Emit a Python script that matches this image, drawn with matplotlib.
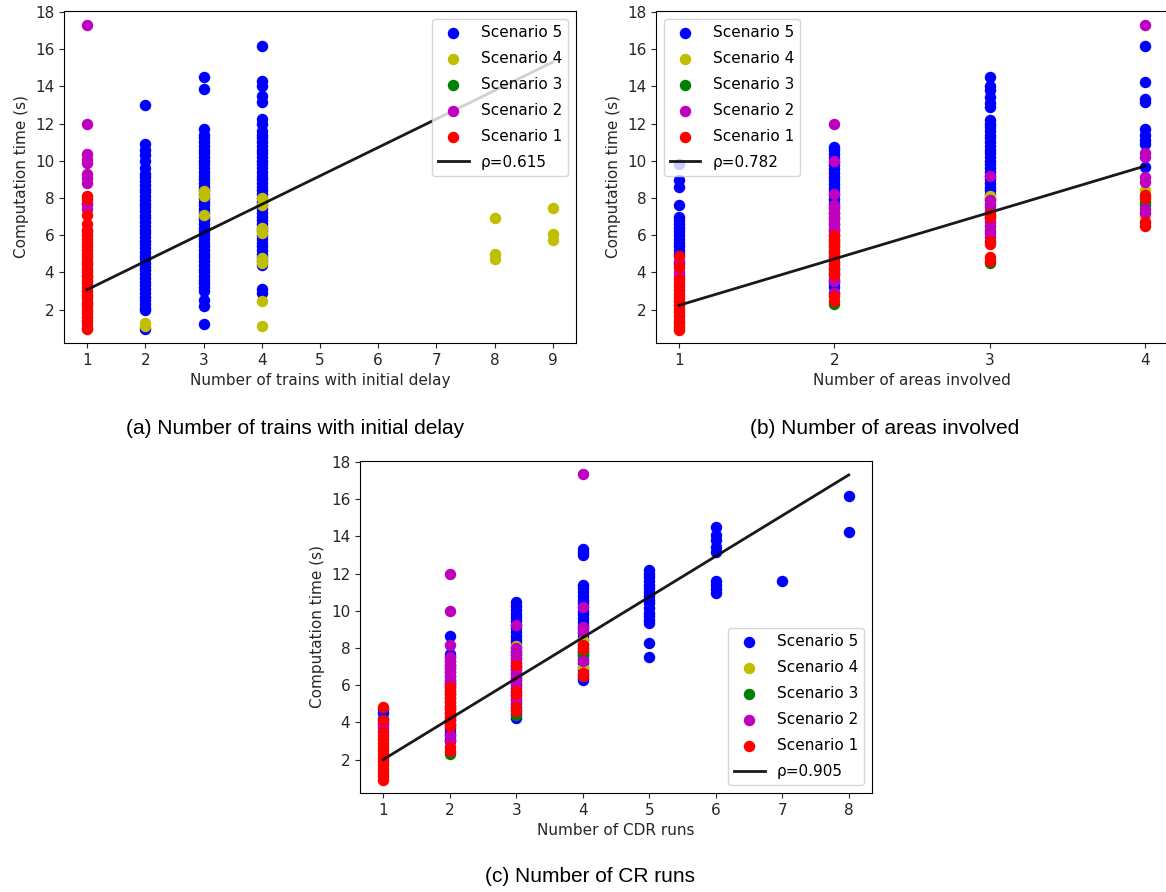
import matplotlib
matplotlib.use("Agg")
import matplotlib.pyplot as plt

# computation time (s) per scenario, grouped by x value (one dict per panel)
# ---- (a) number of trains with initial delay
a_s5 = {2: [13.0, 10.9, 10.6, 10.3, 10.0, 9.6, 9.3, 9.1, 8.9, 8.7, 8.5, 8.3, 8.1, 7.9,
            7.7, 7.5, 7.3, 7.1, 6.9, 6.7, 6.5, 6.3, 6.1, 5.9, 5.7, 5.5, 5.3, 5.1, 4.9,
            4.7, 4.5, 4.3, 4.1, 3.9, 3.7, 3.5, 3.3, 3.1, 2.9, 2.7, 2.5, 2.3, 2.1, 1.95,
            0.95],
        3: [14.5, 13.85, 11.7, 11.4, 11.2, 11.0, 10.8, 10.6, 10.4, 10.2, 10.0, 9.8, 9.6,
            9.4, 9.2, 9.0, 8.8, 8.6, 8.4, 8.2, 8.0, 7.8, 7.6, 7.4, 7.2, 7.0, 6.8, 6.6,
            6.4, 6.2, 6.0, 5.8, 5.6, 5.4, 5.2, 5.0, 4.8, 4.6, 4.4, 4.2, 4.0, 3.8, 3.6,
            3.4, 3.2, 3.0, 2.5, 2.2, 1.2],
        4: [16.15, 14.3, 14.0, 13.5, 13.15, 12.25, 12.0, 11.6, 11.4, 11.2, 11.0, 10.8,
            10.6, 10.4, 10.2, 10.0, 9.8, 9.6, 9.4, 9.2, 9.0, 8.8, 8.6, 8.4, 8.2, 8.0,
            7.8, 7.6, 7.4, 7.2, 7.0, 6.8, 6.6, 6.4, 6.2, 6.0, 5.8, 5.6, 5.4, 5.2, 5.0,
            4.8, 4.6, 4.4, 3.1, 2.9]}
a_s4 = {2: [1.3, 1.1],
        3: [8.35, 8.1, 7.1],
        4: [8.0, 7.6, 6.4, 6.1, 4.75, 4.5, 2.45, 1.1],
        8: [6.9, 5.0, 4.7],
        9: [7.45, 6.05, 5.75]}
a_s3 = {1: [2.3, 4.5, 7.7]}
a_s2 = {1: [17.3, 11.95, 10.35, 10.1, 9.9, 9.3, 9.05, 8.8, 7.7, 7.4, 6.3, 3.8]}
a_s1 = {1: [8.1, 7.95, 7.1, 6.6, 6.2, 6.0, 5.8, 5.6, 5.4, 5.2, 5.0, 4.8, 4.6, 4.4, 4.2,
            4.0, 3.8, 3.6, 3.4, 3.2, 3.0, 2.8, 2.6, 2.4, 2.2, 2.0, 1.8, 1.6, 1.4, 1.2,
            1.0, 0.95]}
a_fit_x = [1, 9]
a_fit_y = [3.07, 15.3]

# ---- (b) number of areas involved
b_s5 = {1: [9.85, 8.95, 8.6, 7.6, 7.0, 6.8, 6.6, 6.4, 6.2, 6.0, 5.8, 5.6, 5.4, 5.2,
            5.0, 4.5],
        2: [10.75, 10.55, 10.35, 10.15, 9.95, 9.75, 9.55, 9.35, 9.15, 8.95, 8.75, 8.55,
            8.35, 8.15, 7.95, 7.75, 7.5, 7.2, 6.9, 6.6, 6.3, 6.0, 5.7, 5.4, 5.1, 4.8,
            4.5, 4.2, 3.9, 3.6, 3.4, 3.2, 2.9],
        3: [14.5, 14.0, 13.8, 13.4, 13.1, 12.9, 12.2, 12.0, 11.8, 11.6, 11.4, 11.2, 11.0,
            10.8, 10.6, 10.4, 10.2, 10.0, 9.8, 9.6, 9.4, 9.2, 9.0, 8.8, 8.6, 8.4, 8.2,
            8.0],
        4: [16.15, 14.25, 13.3, 13.15, 11.7, 11.4, 11.1, 10.9, 9.65]}
b_s4 = {1: [1.1, 1.3, 2.45],
        3: [8.1, 7.9],
        4: [8.45, 7.05]}
b_s3 = {2: [2.3], 3: [4.5], 4: [7.8, 7.6]}
b_s2 = {1: [4.6, 4.0, 3.8],
        2: [11.95, 10.0, 8.2, 7.6, 7.4, 7.2, 7.0, 6.8, 6.6, 6.4, 6.2, 3.55, 2.9],
        3: [9.2, 7.9, 7.7, 7.5, 7.3, 7.1, 6.9, 6.7, 6.5, 6.3, 6.1, 5.9],
        4: [17.3, 10.4, 10.2, 9.1, 8.85, 7.4, 7.2]}
b_s1 = {1: [4.9, 4.3, 3.65, 3.45, 3.25, 3.05, 2.85, 2.65, 2.45, 2.25, 2.05, 1.85, 1.65,
            1.45, 1.25, 1.05, 0.9],
        2: [6.0, 5.8, 5.6, 5.4, 5.2, 5.0, 4.8, 4.6, 4.4, 4.2, 4.0, 3.85, 2.75, 2.45],
        3: [7.15, 7.0, 5.7, 5.5, 4.85, 4.6],
        4: [8.15, 8.0, 6.7, 6.5]}
b_fit_x = [1, 4]
b_fit_y = [2.23, 9.71]

# ---- (c) number of CDR runs
c_s5 = {1: [4.7, 4.5, 4.2, 3.9],
        2: [8.65, 7.7, 7.5, 7.3, 7.1, 6.9, 6.7, 6.5, 6.3, 6.1, 5.9, 5.7, 5.5, 5.3, 5.1,
            4.9, 4.7, 4.5, 4.3, 4.1, 3.9, 3.7, 3.5, 3.3, 3.1, 3.0],
        3: [10.45, 10.25, 10.05, 9.85, 9.65, 9.45, 9.25, 9.05, 8.85, 8.65, 8.45, 8.25,
            8.05, 7.85, 7.65, 7.45, 7.25, 7.05, 6.85, 6.65, 6.45, 6.25, 6.05, 5.85, 5.65,
            5.45, 5.25, 5.05, 4.85, 4.65, 4.45, 4.25],
        4: [13.3, 13.15, 13.0, 11.4, 11.2, 11.0, 10.8, 10.6, 10.4, 10.2, 10.0, 9.8, 9.6,
            9.4, 9.2, 9.0, 8.8, 8.6, 8.4, 8.2, 8.0, 7.8, 7.6, 7.4, 7.2, 7.0, 6.8, 6.6,
            6.4, 6.3],
        5: [12.2, 12.0, 11.8, 11.6, 11.4, 11.2, 11.0, 10.8, 10.6, 10.4, 10.15, 9.9, 9.7,
            9.5, 9.35, 8.25, 7.5],
        6: [14.5, 14.05, 13.8, 13.4, 13.15, 11.6, 11.4, 11.15, 10.95],
        7: [11.6],
        8: [16.15, 14.25]}
c_s4 = {3: [8.1], 4: [8.4, 7.0]}
c_s3 = {2: [2.3], 3: [4.4], 4: [7.8, 7.6]}
c_s2 = {1: [4.0, 3.7],
        2: [11.95, 10.0, 8.15, 7.5, 7.3, 7.1, 6.9, 6.7, 6.5, 6.3, 6.1, 6.0, 3.3, 3.0],
        3: [9.25, 8.0, 7.8, 7.6, 7.4, 7.2, 7.0, 6.8, 6.6, 6.4, 6.2, 6.0, 5.4, 5.15],
        4: [17.35, 10.2, 9.1, 8.85, 7.3]}
c_s1 = {1: [4.85, 4.15, 3.5, 3.3, 3.1, 2.9, 2.7, 2.5, 2.3, 2.1, 1.9, 1.7, 1.5, 1.3, 1.1,
            0.9],
        2: [5.9, 5.7, 5.5, 5.3, 5.1, 4.9, 4.7, 4.5, 4.3, 4.1, 3.9, 3.8, 2.7, 2.45],
        3: [7.1, 5.7, 5.5, 4.85, 4.6],
        4: [8.15, 7.95, 6.65, 6.5]}
c_fit_x = [1, 8]
c_fit_y = [2.0, 17.3]

scenario_labels = ["Scenario 5", "Scenario 4", "Scenario 3", "Scenario 2", "Scenario 1"]
scenario_colors = ["b", "y", "g", "m", "r"]
rho_labels = ["\u03c1=0.615", "\u03c1=0.782", "\u03c1=0.905"]
x_labels = ["Number of trains with initial delay", "Number of areas involved",
            "Number of CDR runs"]
captions = ["(a) Number of trains with initial delay", "(b) Number of areas involved",
            "(c) Number of CR runs"]

TXT = "#262626"
plt.rcParams["font.size"] = 11


def flatten(groups):
    xs, ys = [], []
    for x, vals in groups.items():
        xs += [x] * len(vals)
        ys += vals
    return xs, ys


def draw_panel(ax, series, fit_x, fit_y, xlabel, rho, legend_loc):
    for groups, lab, col in zip(series, scenario_labels, scenario_colors):
        xs, ys = flatten(groups)
        ax.scatter(xs, ys, s=68, c=col, label=lab, linewidths=0)
    ax.plot(fit_x, fit_y, color="k", lw=2, alpha=0.9, label=rho)
    ax.set_ylim(0.2, 18.05)
    ax.set_yticks(range(2, 19, 2))
    ax.set_xticks(range(min(fit_x), max(fit_x) + 1))
    ax.set_xlabel(xlabel, color=TXT)
    ax.set_ylabel("Computation time (s)", color=TXT)
    ax.tick_params(colors=TXT)
    ax.legend(loc=legend_loc, labelspacing=0.72)


fig = plt.figure(figsize=(11.66, 8.92), dpi=100)
W, H = 1166, 892
aw, ah = 512 / W, 332 / H
ax_a = fig.add_axes([64 / W, 1 - 343 / H, aw, ah])
ax_b = fig.add_axes([656 / W, 1 - 343 / H, aw, ah])
ax_c = fig.add_axes([360 / W, 1 - 793 / H, aw, ah])

draw_panel(ax_a, [a_s5, a_s4, a_s3, a_s2, a_s1], a_fit_x, a_fit_y,
           x_labels[0], rho_labels[0], "upper right")
draw_panel(ax_b, [b_s5, b_s4, b_s3, b_s2, b_s1], b_fit_x, b_fit_y,
           x_labels[1], rho_labels[1], "upper left")
draw_panel(ax_c, [c_s5, c_s4, c_s3, c_s2, c_s1], c_fit_x, c_fit_y,
           x_labels[2], rho_labels[2], "lower right")

cap_font = dict(family=["Liberation Sans", "DejaVu Sans"], fontsize=15, ha="center", va="center")
fig.text(295 / W, 1 - 428 / H, captions[0], **cap_font)
fig.text(885 / W, 1 - 428 / H, captions[1], **cap_font)
fig.text(590 / W, 1 - 877 / H, captions[2], **cap_font)

fig.savefig("out.png", dpi=100)
